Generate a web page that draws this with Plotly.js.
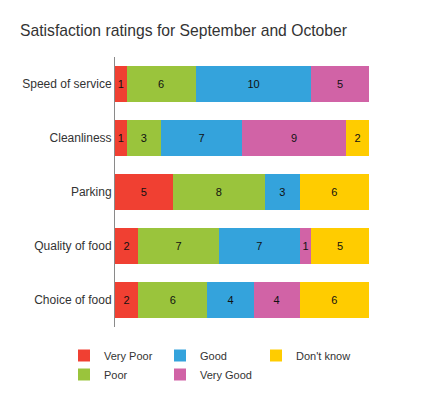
<!DOCTYPE html>
<html><head><meta charset="utf-8">
<script src="https://cdn.plot.ly/plotly-3.0.1.min.js"></script>
<style>html,body{margin:0;padding:0;background:#fff}#chart{width:422px;height:399px}</style>
</head><body><div id="chart"></div>
<script>
var categories = ["Speed of service", "Cleanliness", "Parking", "Quality of food", "Choice of food"];
var seriesNames = ["Very Poor", "Poor", "Good", "Very Good", "Don't know"];
var veryPoor = [1, 1, 5, 2, 2];
var poor = [6, 3, 8, 7, 6];
var good = [10, 7, 3, 7, 4];
var veryGood = [5, 9, 0, 1, 4];
var dontKnow = [0, 2, 6, 5, 6];
var colors = ["#F04032", "#9AC43C", "#34A3DC", "#D163A6", "#FFCC00"];
var legendRanks = [1, 4, 2, 5, 3];

var values = [veryPoor, poor, good, veryGood, dontKnow];
var FONT = "Liberation Sans, Arial, sans-serif";
var traces = values.map(function (vals, i) {
  return {
    type: "bar",
    orientation: "h",
    name: seriesNames[i],
    y: categories,
    x: vals,
    text: vals.map(function (v) { return v > 0 ? String(v) : ""; }),
    textposition: "inside",
    insidetextanchor: "middle",
    constraintext: "none",
    textangle: 0,
    textfont: { family: FONT, size: 11, color: "#111" },
    marker: { color: colors[i], line: { width: 0 } },
    legendrank: legendRanks[i],
    hoverinfo: "x+y+name"
  };
});

// total per category (all rows sum to the same total)
var maxTotal = Math.max.apply(null, categories.map(function (_, j) {
  return values.reduce(function (s, arr) { return s + arr[j]; }, 0);
}));

// plot area extends past the bar end so the legend can hold 3 entries per row
var W = 422, L = 115, barEnd = 369, R = 22;
var plotW = W - L - R;
var xMax = maxTotal * plotW / (barEnd - L);

var layout = {
  width: W, height: 399,
  barmode: "stack",
  bargap: 0.333,
  margin: { l: L, r: R, t: 57, b: 72, pad: 0 },
  paper_bgcolor: "#fff", plot_bgcolor: "#fff",
  font: { family: FONT, size: 11, color: "#333" },
  title: {
    text: "Satisfaction ratings for September and October",
    x: 20 / W, xanchor: "left", xref: "container",
    y: 1 - 31 / 399, yanchor: "middle", yref: "container",
    font: { size: 15.7, color: "#333" }
  },
  xaxis: { range: [0, xMax], showgrid: false, zeroline: false, showticklabels: false, showline: false, ticks: "", fixedrange: true },
  yaxis: {
    autorange: "reversed", showgrid: false, zeroline: false,
    showline: true, linecolor: "#8a8a8a", linewidth: 1,
    ticks: "", ticklen: 0, tickfont: { size: 12, color: "#333" },
    fixedrange: true
  },
  showlegend: true,
  legend: {
    orientation: "h", traceorder: "normal",
    xref: "container", yref: "container",
    x: 64 / W, xanchor: "left",
    y: 1 - 341 / 399, yanchor: "top",
    entrywidth: 51, entrywidthmode: "pixels",
    bgcolor: "rgba(0,0,0,0)",
    font: { family: FONT, size: 11, color: "#333" },
    itemclick: false, itemdoubleclick: false
  }
};

Plotly.newPlot("chart", traces, layout, { displayModeBar: false, staticPlot: true });
</script></body></html>
